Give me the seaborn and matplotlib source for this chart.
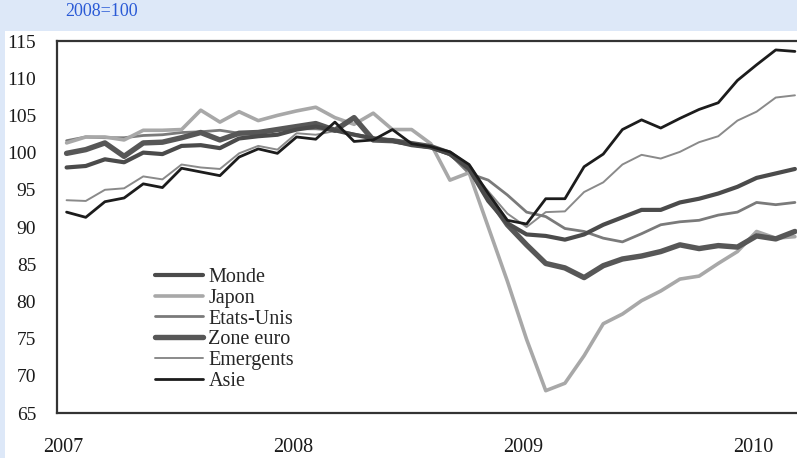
import numpy as np
import pandas as pd
import matplotlib
matplotlib.use("Agg")
import matplotlib.pyplot as plt
from matplotlib.patches import Rectangle
from matplotlib.transforms import ScaledTranslation
import seaborn as sns

# ==========================================
# DATA (monthly, Jan 2007 - Mar 2010, 2008=100)
# ==========================================
monde = [98.0, 98.2, 99.1, 98.7, 100.0, 99.8, 100.9, 101.0, 100.6, 101.9,
         102.2, 102.4, 103.1, 103.5, 103.0, 102.4, 101.9, 101.6, 101.0, 100.7,
         99.8, 97.8, 93.5, 90.5, 89.0, 88.8, 88.3, 89.0, 90.3, 91.3,
         92.3, 92.3, 93.3, 93.8, 94.5, 95.4, 96.6, 97.2, 97.8]
japon = [101.3, 102.1, 102.1, 101.7, 103.0, 103.0, 103.1, 105.7, 104.1, 105.5,
         104.3, 105.0, 105.6, 106.1, 104.7, 103.8, 105.3, 103.1, 103.1, 101.2,
         96.3, 97.3, 90.0, 82.7, 74.9, 68.0, 69.0, 72.7, 77.0, 78.3,
         80.1, 81.4, 83.0, 83.4, 85.1, 86.7, 89.4, 88.5, 88.7]
etats_unis = [101.6, 102.1, 102.0, 102.0, 102.3, 102.4, 102.7, 102.8, 103.0, 102.6,
              102.8, 103.0, 103.2, 103.2, 103.0, 102.5, 102.0, 101.7, 101.2, 100.8,
              99.8, 97.2, 96.3, 94.3, 92.0, 91.4, 89.8, 89.4, 88.5, 88.0,
              89.1, 90.3, 90.7, 90.9, 91.6, 92.0, 93.3, 93.0, 93.3]
zone_euro = [99.9, 100.4, 101.3, 99.5, 101.3, 101.4, 102.0, 102.7, 101.7, 102.6,
             102.7, 103.1, 103.5, 103.9, 103.0, 104.7, 101.7, 101.6, 101.2, 100.8,
             99.9, 98.0, 94.0, 90.3, 87.6, 85.1, 84.5, 83.2, 84.8, 85.7,
             86.1, 86.7, 87.6, 87.1, 87.5, 87.3, 88.8, 88.4, 89.4]
emergents = [93.6, 93.5, 95.0, 95.2, 96.8, 96.4, 98.4, 98.0, 97.8, 99.9,
             100.9, 100.4, 102.6, 102.4, 102.9, 102.5, 102.0, 101.6, 101.2, 100.7,
             99.7, 97.8, 94.8, 91.8, 90.0, 92.0, 92.1, 94.7, 96.0, 98.4,
             99.7, 99.2, 100.1, 101.4, 102.2, 104.3, 105.5, 107.4, 107.7]
asie = [92.0, 91.3, 93.4, 93.9, 95.8, 95.3, 97.9, 97.4, 96.9, 99.4,
        100.5, 99.9, 102.1, 101.8, 104.1, 101.5, 101.7, 103.1, 101.2, 100.8,
        100.1, 98.4, 94.5, 90.9, 90.4, 93.8, 93.8, 98.1, 99.8, 103.1,
        104.4, 103.3, 104.6, 105.8, 106.7, 109.7, 111.8, 113.8, 113.6]

years = [2007, 2008, 2009, 2010]
yticks = list(range(65, 116, 5))

# x position = mid-month in decimal years
t = 2007 + (np.arange(len(monde)) + 0.5) / 12

series = {
    "Monde": monde,
    "Japon": japon,
    "Etats-Unis": etats_unis,
    "Zone euro": zone_euro,
    "Emergents": emergents,
    "Asie": asie,
}
df = pd.concat(
    [pd.DataFrame({"date": t, "value": v, "serie": k}) for k, v in series.items()],
    ignore_index=True,
)

# colour / width per series
styles = {
    "Monde": ("#4b4b4b", 3.0),
    "Japon": ("#a8a8a8", 2.6),
    "Etats-Unis": ("#7a7a7a", 2.0),
    "Zone euro": ("#575757", 3.9),
    "Emergents": ("#8a8a8a", 1.4),
    "Asie": ("#1c1c1c", 2.0),
}
draw_order = ["Emergents", "Etats-Unis", "Japon", "Zone euro", "Monde", "Asie"]

# ==========================================
# FIGURE
# ==========================================
sns.set_theme(style="white")
plt.rcParams["font.family"] = ["Liberation Serif", "DejaVu Serif"]

fig = plt.figure(figsize=(7.97, 4.58), dpi=100, facecolor="#dde8f8")
# white panel behind the chart (the blue band stays at top and left edge)
fig.patches.append(Rectangle((5 / 797, 0), 1, (458 - 31) / 458, transform=fig.transFigure,
                             facecolor="white", edgecolor="none", zorder=-5))
ax = fig.add_axes([57 / 797, 1 - 413 / 458, 1 - 57 / 797, (413 - 41) / 458])
ax.set_zorder(2)
ax.set_facecolor("white")

lines = {}
for name in draw_order:
    col, lw = styles[name]
    sns.lineplot(data=df[df["serie"] == name], x="date", y="value", ax=ax,
                 color=col, linewidth=lw, label=name, legend=False)
    lines[name] = ax.get_lines()[-1]

ax.set_xlim(2007, 2007 + 740 / 230)
ax.set_ylim(65, 115)
ax.set_xticks(years)
ax.set_xticklabels([str(y) for y in years])
ax.set_yticks(yticks)
ax.set_xlabel("")
ax.set_ylabel("")
ax.tick_params(axis="both", direction="in", length=6, width=1.2, color="#333333",
               labelcolor="#1a1a1a")
ax.tick_params(axis="x", pad=18, labelsize=14.5)
ax.tick_params(axis="y", pad=15, labelsize=14)
for lab in ax.get_xticklabels():
    lab.set_transform(lab.get_transform() + ScaledTranslation(6 / 100, 0, fig.dpi_scale_trans))

for side in ["left", "bottom", "top"]:
    ax.spines[side].set_color("#333333")
    ax.spines[side].set_linewidth(1.6)
ax.spines["right"].set_visible(False)

order = ["Monde", "Japon", "Etats-Unis", "Zone euro", "Emergents", "Asie"]
ax.legend([lines[n] for n in order], order, loc="upper left",
          bbox_to_anchor=(155 / 797, 1 - 268 / 458), bbox_transform=fig.transFigure,
          frameon=False, fontsize=14.5, handlelength=2.4, handletextpad=0.25,
          labelspacing=0.08, borderpad=0, borderaxespad=0)

fig.text(65 / 797, 1 - 12 / 458, "2008=100", color="#2a5ad6", fontsize=13,
         va="center", ha="left")

fig.savefig("out.png", dpi=100, facecolor=fig.get_facecolor())
